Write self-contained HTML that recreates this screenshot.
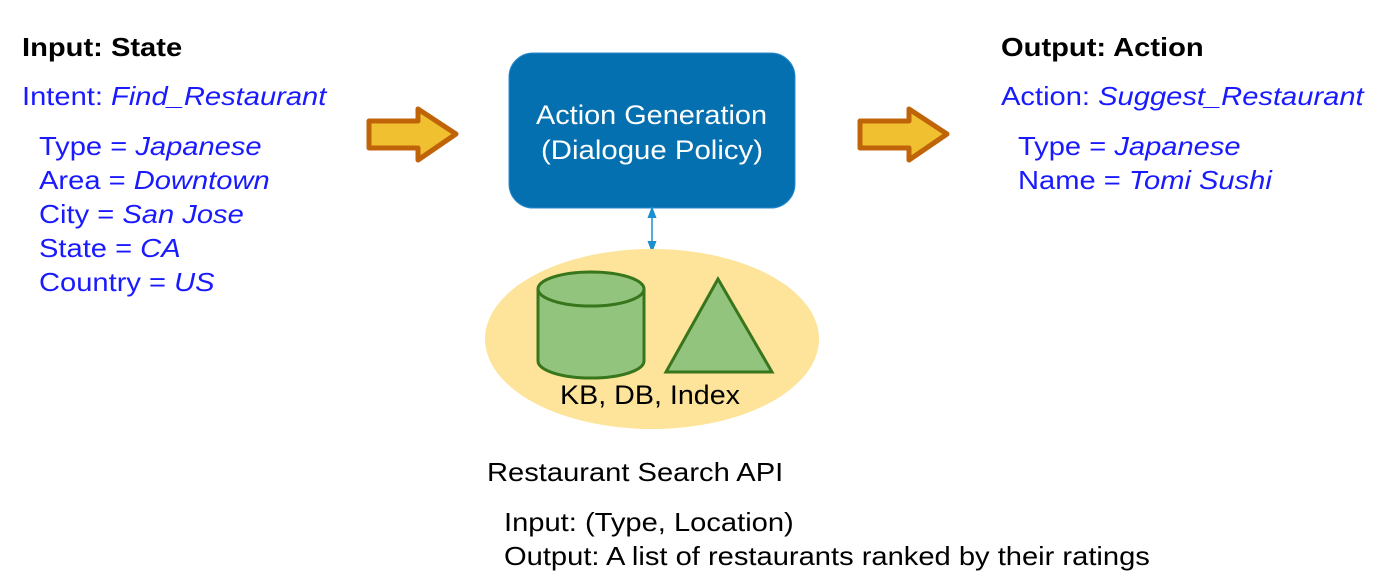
<!DOCTYPE html>
<html><head><style>
body{margin:0;width:1384px;height:588px;background:#fff;position:relative;overflow:hidden;font-family:"Liberation Sans",Arial,sans-serif}
.t{position:absolute;white-space:nowrap;font-size:26px;line-height:34px;transform:scaleX(1.12);transform-origin:0 0}
.b{color:#000;font-weight:bold}
.u{color:#1a1aff}
i{font-style:italic}
</style></head><body>
<div class="t b" style="left:22px;top:30px">Input: State</div>
<div class="t u" style="left:22px;top:79px">Intent: <i>Find_Restaurant</i></div>
<div class="t u" style="left:39px;top:129px">Type = <i>Japanese</i><br>Area = <i>Downtown</i><br>City = <i>San Jose</i><br>State = <i>CA</i><br>Country = <i>US</i></div>
<div class="t b" style="left:1001px;top:30px">Output: Action</div>
<div class="t u" style="left:1001px;top:79px">Action: <i>Suggest_Restaurant</i></div>
<div class="t u" style="left:1018px;top:129px">Type = <i>Japanese</i><br>Name = <i>Tomi Sushi</i></div>
<svg width="1384" height="588" style="position:absolute;left:0;top:0">
<defs><marker id="a" markerWidth="8" markerHeight="8" refX="4" refY="4" orient="auto-start-reverse"><path d="M0,1 L8,4 L0,7z" fill="#1b8fd0"/></marker></defs>
<path d="M369,121 H418 V109 L456,134 L418,160 V148 H369 Z" fill="#f0c030" stroke="#c0640a" stroke-width="5" stroke-linejoin="round"/>
<path d="M860,121 H909 V109 L947,134 L909,160 V148 H860 Z" fill="#f0c030" stroke="#c0640a" stroke-width="5" stroke-linejoin="round"/>
<rect x="509" y="53" width="286" height="155" rx="24" fill="#0470b0" stroke="#2a8ad0" stroke-width="1"/>
<text x="536" y="124" textLength="231" lengthAdjust="spacingAndGlyphs" fill="#fff" font-size="27">Action Generation</text>
<text x="541" y="159" textLength="222" lengthAdjust="spacingAndGlyphs" fill="#fff" font-size="27">(Dialogue Policy)</text>
<line x1="652" y1="212" x2="652" y2="247" stroke="#1b8fd0" stroke-width="1.5" marker-start="url(#a)" marker-end="url(#a)"/>
<ellipse cx="652" cy="339" rx="167" ry="90" fill="#fde49a"/>
<path d="M538,289 V361 A53,17 0 0 0 644,361 V289" fill="#93c47d" stroke="#38761d" stroke-width="3"/>
<ellipse cx="591" cy="289" rx="53" ry="17" fill="#93c47d" stroke="#38761d" stroke-width="3"/>
<polygon points="718,279 666,372 772,372" fill="#93c47d" stroke="#38761d" stroke-width="3"/>
<text x="560" y="404" textLength="180" lengthAdjust="spacingAndGlyphs" font-size="27" fill="#000">KB, DB, Index</text>
</svg>
<div class="t" style="left:487px;top:455px">Restaurant Search API</div>
<div class="t" style="left:504px;top:505px">Input: (Type, Location)<br>Output: A list of restaurants ranked by their ratings</div>
</body></html>
